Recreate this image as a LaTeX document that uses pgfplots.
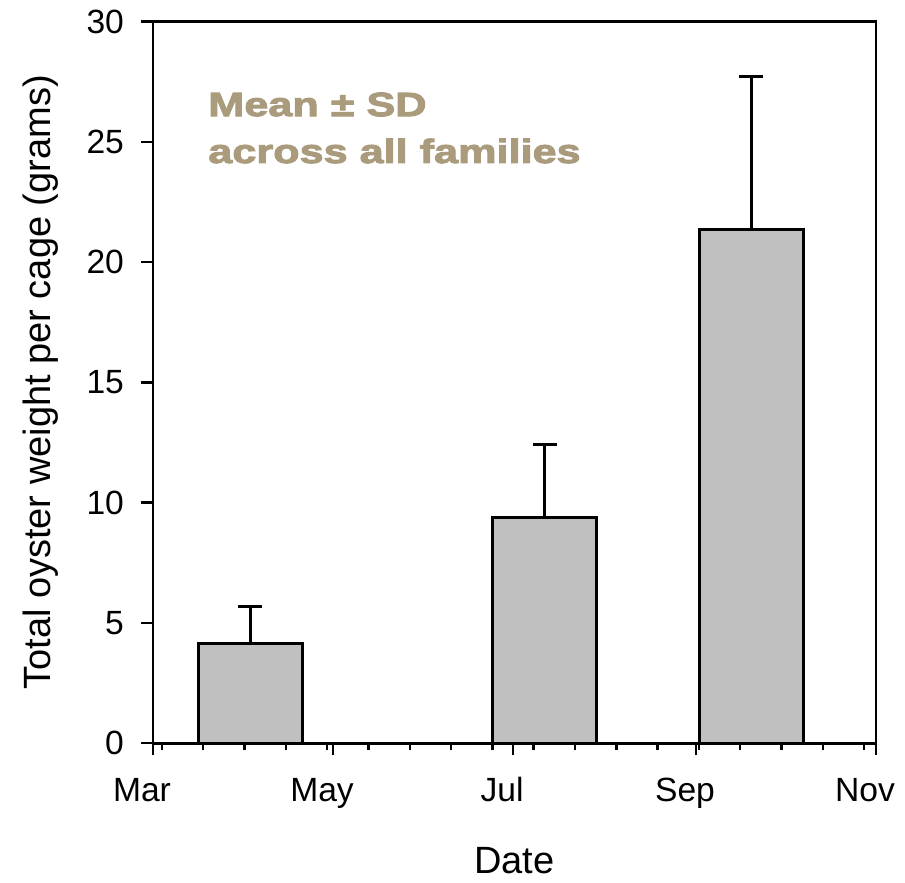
\documentclass[border=0pt]{standalone}
\usepackage{fontspec}
\setmainfont{Liberation Sans}
\newfontfamily\annfont{Liberation Sans Bold}[FakeStretch=1.29, FakeBold=3]
\usepackage{pgfplots}
\pgfplotsset{compat=1.18}
\usepackage{pgfplotstable}

\definecolor{anntan}{RGB}{169,155,123}
\definecolor{bargray}{RGB}{192,192,192}

% x = days after 1 March, y = mean weight, e = SD
\pgfplotstableread{
x     y      e
33.0  4.16   1.52
132.8 9.39   3.02
202.8 21.36  6.34
}\oysters

\begin{document}
\begin{tikzpicture}
  \path[use as bounding box] (-76.5pt,-69.85pt) rectangle (376pt,371.65pt);
  \begin{axis}[
      at={(0,0)}, anchor=south west,
      scale only axis,
      width=361.5pt, height=360.9pt,
      xmin=0, xmax=245,
      ymin=0, ymax=30,
      xtick={0,61,122,184,245},
      xticklabels={Mar,May,Jul,Sep,Nov},
      minor xtick={3,17,31,45,59,73,87,101,115,129,143,157,171,185,199,213,227,241},
      ytick={0,5,10,15,20,25,30},
      tick pos=left,
      tick align=outside,
      major tick length=6pt,
      minor tick length=3.5pt,
      every tick/.style={black, line width=1.2pt},
      axis line style={line width=1.3pt},
      /pgf/number format/assume math mode=true,
      ticklabel style={font=\fontsize{16.8}{19}\selectfont},
      xticklabel style={anchor=base, yshift=-23pt, xshift=-5.5pt},
      yticklabel style={anchor=east, xshift=-5pt},
      xlabel={Date},
      ylabel={Total oyster weight per cage (grams)},
      label style={font=\fontsize{19}{22}\selectfont},
      xlabel style={at={(axis description cs:0.5,0)}, anchor=base, yshift=-65pt},
      ylabel style={at={(axis description cs:-0.156,0.5)}, anchor=center},
      clip=false,
    ]
    \addplot[ybar, bar width=35.2, fill=bargray, draw=black, line width=1.5pt,
      error bars/.cd, y dir=plus, y explicit,
      error bar style={line width=1.4pt, black},
      error mark options={rotate=90, mark size=6pt, line width=1.4pt, black}]
      table[x=x, y=y, y error=e] {\oysters};
    \node[anchor=base west, inner sep=0pt, text=anntan, font=\annfont\fontsize{16.75}{20}\selectfont]
      at (rel axis cs:0.076,0.869) {Mean ± SD};
    \node[anchor=base west, inner sep=0pt, text=anntan, font=\annfont\fontsize{16.75}{20}\selectfont]
      at (rel axis cs:0.076,0.804) {across all families};
  \end{axis}
\end{tikzpicture}
\end{document}
